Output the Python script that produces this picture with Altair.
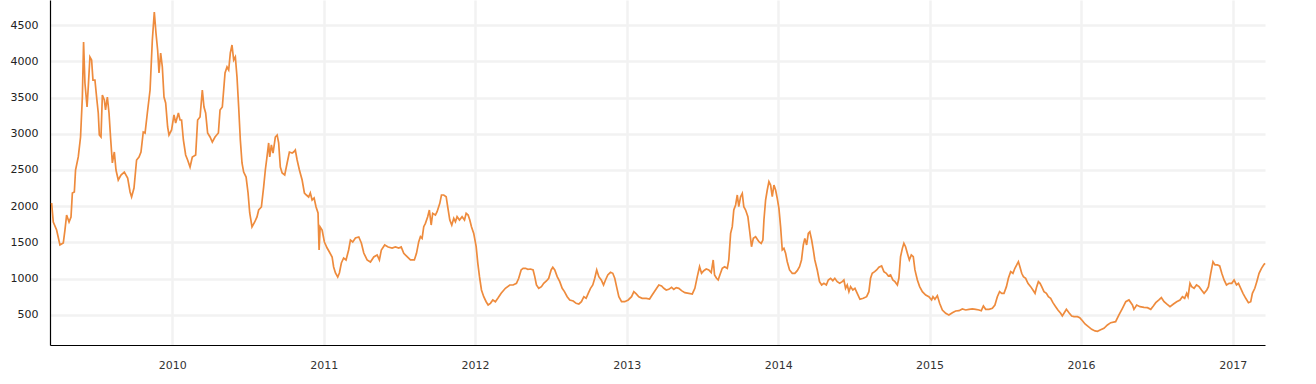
import altair as alt
import pandas as pd

# Decimal-year positions and index values
years = [
2009.203,2009.214,2009.236,2009.258,2009.280,2009.291,2009.302,2009.318,2009.331,2009.340,
2009.353,2009.361,2009.379,2009.394,2009.406,2009.414,2009.423,2009.437,2009.445,2009.456,
2009.467,2009.476,2009.489,2009.500,2009.511,2009.518,2009.529,2009.538,2009.551,2009.559,
2009.571,2009.582,2009.592,2009.604,2009.617,2009.628,2009.643,2009.661,2009.683,2009.705,
2009.721,2009.731,2009.747,2009.764,2009.780,2009.793,2009.808,2009.820,2009.835,2009.853,
2009.868,2009.881,2009.892,2009.903,2009.912,2009.923,2009.934,2009.945,2009.956,2009.969,
2009.978,2009.995,2010.011,2010.022,2010.040,2010.051,2010.061,2010.073,2010.088,2010.101,
2010.117,2010.132,2010.154,2010.167,2010.183,2010.198,2010.209,2010.220,2010.233,2010.249,
2010.264,2010.282,2010.304,2010.315,2010.330,2010.348,2010.361,2010.372,2010.383,2010.394,
2010.405,2010.416,2010.427,2010.438,2010.449,2010.460,2010.471,2010.487,2010.500,2010.511,
2010.526,2010.544,2010.559,2010.570,2010.588,2010.603,2010.614,2010.625,2010.636,2010.643,
2010.654,2010.665,2010.680,2010.692,2010.702,2010.713,2010.725,2010.742,2010.758,2010.773,
2010.791,2010.801,2010.812,2010.824,2010.839,2010.857,2010.872,2010.885,2010.900,2010.911,
2010.923,2010.936,2010.949,2010.962,2010.969,2010.976,2010.989,2011.004,2011.022,2011.037,
2011.055,2011.065,2011.077,2011.092,2011.103,2011.116,2011.131,2011.147,2011.164,2011.176,
2011.191,2011.209,2011.231,2011.248,2011.264,2011.286,2011.308,2011.330,2011.352,2011.367,
2011.380,2011.402,2011.425,2011.451,2011.473,2011.495,2011.511,2011.528,2011.550,2011.572,
2011.598,2011.612,2011.627,2011.638,2011.649,2011.660,2011.671,2011.686,2011.697,2011.709,
2011.719,2011.737,2011.748,2011.766,2011.777,2011.792,2011.808,2011.818,2011.832,2011.845,
2011.858,2011.869,2011.880,2011.896,2011.913,2011.929,2011.940,2011.953,2011.964,2011.975,
2011.990,2012.006,2012.017,2012.028,2012.041,2012.056,2012.072,2012.085,2012.100,2012.116,
2012.133,2012.149,2012.171,2012.199,2012.228,2012.250,2012.272,2012.287,2012.303,2012.316,
2012.332,2012.347,2012.365,2012.382,2012.393,2012.404,2012.419,2012.437,2012.452,2012.470,
2012.485,2012.501,2012.512,2012.525,2012.541,2012.558,2012.574,2012.589,2012.607,2012.624,
2012.647,2012.666,2012.684,2012.701,2012.717,2012.732,2012.746,2012.761,2012.776,2012.789,
2012.802,2012.816,2012.832,2012.847,2012.860,2012.875,2012.893,2012.908,2012.921,2012.933,
2012.948,2012.966,2012.987,2013.010,2013.032,2013.047,2013.063,2013.080,2013.102,2013.129,
2013.151,2013.168,2013.190,2013.212,2013.230,2013.245,2013.261,2013.278,2013.296,2013.311,
2013.327,2013.344,2013.362,2013.384,2013.410,2013.433,2013.450,2013.466,2013.481,2013.494,
2013.509,2013.525,2013.542,2013.558,2013.571,2013.580,2013.593,2013.604,2013.615,2013.631,
2013.646,2013.664,2013.674,2013.686,2013.697,2013.707,2013.719,2013.730,2013.740,2013.752,
2013.763,2013.773,2013.785,2013.800,2013.811,2013.824,2013.836,2013.851,2013.873,2013.888,
2013.899,2013.906,2013.917,2013.928,2013.939,2013.950,2013.961,2013.972,2013.983,2013.994,
2014.005,2014.016,2014.027,2014.038,2014.049,2014.060,2014.075,2014.093,2014.110,2014.126,
2014.141,2014.154,2014.166,2014.176,2014.188,2014.199,2014.209,2014.221,2014.232,2014.242,
2014.258,2014.273,2014.287,2014.302,2014.318,2014.331,2014.346,2014.361,2014.374,2014.390,
2014.406,2014.423,2014.434,2014.445,2014.456,2014.467,2014.478,2014.493,2014.507,2014.522,
2014.540,2014.562,2014.584,2014.599,2014.610,2014.621,2014.637,2014.650,2014.665,2014.683,
2014.698,2014.714,2014.727,2014.742,2014.757,2014.771,2014.787,2014.797,2014.808,2014.820,
2014.830,2014.841,2014.853,2014.866,2014.879,2014.892,2014.903,2014.919,2014.934,2014.952,
2014.974,2014.995,2015.013,2015.022,2015.035,2015.051,2015.066,2015.084,2015.106,2015.127,
2015.150,2015.172,2015.194,2015.216,2015.238,2015.260,2015.282,2015.304,2015.326,2015.341,
2015.355,2015.370,2015.392,2015.414,2015.431,2015.447,2015.462,2015.476,2015.491,2015.507,
2015.520,2015.535,2015.550,2015.563,2015.575,2015.586,2015.596,2015.608,2015.619,2015.634,
2015.649,2015.667,2015.682,2015.696,2015.707,2015.718,2015.729,2015.740,2015.755,2015.771,
2015.784,2015.799,2015.814,2015.832,2015.847,2015.865,2015.876,2015.887,2015.903,2015.920,
2015.938,2015.953,2015.976,2015.991,2016.009,2016.026,2016.048,2016.070,2016.092,2016.108,
2016.129,2016.151,2016.174,2016.196,2016.228,2016.250,2016.273,2016.295,2016.316,2016.339,
2016.349,2016.367,2016.389,2016.415,2016.438,2016.460,2016.477,2016.493,2016.514,2016.530,
2016.548,2016.565,2016.587,2016.610,2016.631,2016.653,2016.669,2016.684,2016.697,2016.706,
2016.719,2016.730,2016.746,2016.762,2016.779,2016.795,2016.812,2016.830,2016.841,2016.856,
2016.871,2016.884,2016.900,2016.915,2016.929,2016.944,2016.960,2016.977,2016.995,2017.010,
2017.026,2017.039,2017.054,2017.069,2017.087,2017.105,2017.120,2017.131,2017.147,2017.160,
2017.175,2017.191,2017.208,2017.215,
]

values = [
2045,1783,1672,1466,1493,1672,1879,1783,1852,2183,
2197,2500,2680,2955,3507,4266,3700,3369,3645,4059,
4017,3741,3741,3507,3286,2983,2955,3534,3466,3328,
3507,3286,2955,2597,2748,2500,2362,2431,2472,2390,
2197,2128,2252,2638,2680,2748,3024,3010,3286,3603,
4293,4680,4390,4155,3838,4114,3921,3507,3424,3093,
2983,3052,3259,3148,3286,3190,3190,2914,2707,2638,
2541,2680,2707,3190,3231,3603,3369,3286,3010,2955,
2886,2955,3010,3328,3369,3838,3921,3879,4114,4224,
4017,4059,3783,3369,2914,2597,2472,2403,2183,1907,
1714,1783,1852,1948,1990,2266,2500,2680,2873,2680,
2845,2734,2955,2983,2873,2541,2459,2431,2597,2748,
2734,2748,2776,2638,2500,2362,2183,2155,2128,2183,
2086,2114,1990,1907,1397,1714,1672,1507,1424,1369,
1300,1162,1079,1024,1079,1217,1286,1259,1397,1534,
1507,1562,1576,1493,1355,1259,1231,1300,1328,1259,
1397,1466,1438,1424,1438,1424,1438,1351,1304,1259,
1259,1351,1511,1580,1557,1718,1764,1856,1948,1741,
1902,1879,1925,2040,2155,2155,2132,1994,1810,1741,
1833,1787,1856,1810,1856,1810,1902,1879,1810,1718,
1626,1442,1213,1029,845,752,683,638,661,707,
683,730,799,868,914,914,937,1006,1121,1144,
1144,1130,1134,1121,1029,914,868,891,937,969,
1006,1121,1158,1121,1029,960,868,822,752,707,
693,661,652,683,752,730,799,868,914,1006,
1121,1029,983,914,983,1052,1089,1075,1006,891,
752,683,683,707,752,822,790,752,730,730,
721,776,845,914,900,868,845,854,882,854,
877,868,836,808,799,790,868,1029,1166,1075,
1111,1134,1121,1084,1259,1052,1006,983,1052,1144,
1166,1144,1259,1626,1718,1948,2017,2155,1994,2132,
2178,1994,1948,1856,1672,1442,1557,1580,1511,1488,
1534,1810,2086,2224,2339,2293,2132,2293,2224,2109,
1971,1718,1397,1419,1351,1235,1121,1075,1075,1111,
1166,1259,1466,1557,1466,1626,1649,1534,1397,1259,
1121,960,914,937,914,983,1006,974,1006,960,
937,960,983,868,914,822,891,845,868,799,
716,730,752,822,1006,1075,1098,1121,1158,1176,
1098,1075,1038,1052,983,960,914,1006,1304,1419,
1488,1442,1351,1259,1328,1304,1121,983,891,822,
776,752,707,752,716,767,661,569,523,500,
532,555,559,583,569,578,583,578,569,559,
624,578,578,592,638,752,822,799,799,891,
1006,1098,1075,1144,1190,1235,1166,1075,1029,1006,
937,891,845,799,891,960,937,891,822,799,
752,730,670,615,569,523,486,523,578,532,
486,477,477,463,421,376,339,302,280,275,
295,316,362,394,408,500,592,683,707,638,
578,638,615,606,601,578,624,670,707,739,
683,652,615,652,683,707,752,730,799,752,
937,891,868,914,891,845,799,845,891,1075,
1235,1190,1190,1176,1075,983,914,937,937,983,
914,937,868,799,730,670,683,799,868,960,
1075,1144,1200,1213,
]

y_ticks = [500, 1000, 1500, 2000, 2500, 3000, 3500, 4000, 4500]
x_domain = ["2009-03-12", "2017-03-20"]
y_domain = [86, 4845]

base = pd.Timestamp("2010-01-01")
df = pd.DataFrame({
    "date": [base + pd.Timedelta(days=(t - 2010) * 365.25) for t in years],
    "value": values,
})

chart = alt.Chart(df).mark_line(
    color="#EE8B3D", strokeWidth=1.7, interpolate="linear"
).encode(
    x=alt.X(
        "date:T",
        scale=alt.Scale(domain=x_domain, nice=False),
        axis=alt.Axis(
            title=None, format="%Y", tickCount={"interval": "year", "step": 1},
            domainColor="#000000", domainWidth=1.2, ticks=False,
            labelPadding=14, labelFontSize=11, labelColor="#333333",
            labelFont="DejaVu Sans", grid=True, gridColor="#F2F2F2", gridWidth=2.5,
        ),
    ),
    y=alt.Y(
        "value:Q",
        scale=alt.Scale(domain=y_domain, nice=False, zero=False),
        axis=alt.Axis(
            title=None, values=y_ticks, format="d", domainColor="#000000",
            domainWidth=1.2, ticks=False, labelPadding=12, labelFontSize=11,
            labelColor="#222222", labelFont="DejaVu Sans", grid=True,
            gridColor="#F2F2F2", gridWidth=2.5,
        ),
    ),
).properties(
    width=1215, height=345,
    background="white",
    autosize=alt.AutoSizeParams(type="none"),
    padding={"left": 50, "top": 0, "right": 51, "bottom": 39},
).configure_view(stroke=None)

chart.save("out.html", embed_options={"renderer": "svg", "actions": False})
